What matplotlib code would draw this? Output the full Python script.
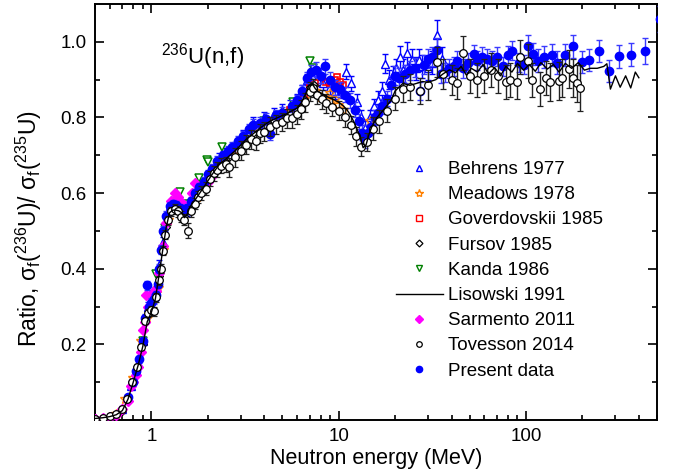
import matplotlib
matplotlib.use("Agg")
import matplotlib.pyplot as plt
from matplotlib.lines import Line2D
from matplotlib.ticker import FixedLocator, NullFormatter, LogLocator

plt.rcParams['font.family'] = ['Liberation Sans', 'DejaVu Sans']
plt.rcParams['mathtext.default'] = 'regular'

# ---------------- data ----------------
lis_E = [0.5, 0.55, 0.6, 0.65, 0.7, 0.75, 0.8, 0.85, 0.9, 0.95, 1.0, 1.05, 1.1, 1.15, 1.2, 1.25, 1.3, 1.35,
         1.4, 1.45, 1.5, 1.55, 1.6, 1.65, 1.7, 1.8, 1.9, 2.0, 2.1, 2.2, 2.3, 2.4, 2.5, 2.6, 2.8, 3.0, 3.2, 3.4,
         3.6, 3.8, 4.0, 4.3, 4.6, 5.0, 5.3, 5.6, 6.0, 6.3, 6.6, 6.9, 7.2, 7.5, 7.8, 8.2, 8.6, 9.0, 9.5, 10,
         10.5, 11, 11.5, 12, 12.5, 13, 13.5, 14, 14.5, 15, 16, 17, 18, 19, 20, 22, 24, 26, 28, 30, 33, 36,
         39, 42, 45, 48, 51, 55, 59, 63, 68, 73, 78, 84, 90, 97, 104, 112, 120, 130, 140, 150, 162, 175,
         190, 205, 220, 240, 260, 270, 282, 300, 318, 340, 362, 383, 400]
lis_R = [0.004, 0.006, 0.009, 0.014, 0.025, 0.055, 0.100, 0.145, 0.195, 0.260, 0.285, 0.320, 0.385, 0.450,
         0.510, 0.548, 0.555, 0.555, 0.553, 0.548, 0.535, 0.543, 0.562, 0.572, 0.580, 0.598, 0.615, 0.632,
         0.648, 0.662, 0.675, 0.683, 0.690, 0.698, 0.712, 0.727, 0.742, 0.752, 0.762, 0.772, 0.780, 0.790,
         0.797, 0.805, 0.810, 0.817, 0.825, 0.838, 0.858, 0.882, 0.890, 0.876, 0.868, 0.862, 0.856, 0.851,
         0.846, 0.840, 0.832, 0.822, 0.808, 0.790, 0.770, 0.748, 0.720, 0.728, 0.755, 0.775, 0.800, 0.815,
         0.830, 0.845, 0.870, 0.890, 0.885, 0.890, 0.895, 0.893, 0.900, 0.915, 0.926, 0.918, 0.935, 0.912,
         0.930, 0.920, 0.940, 0.915, 0.932, 0.910, 0.935, 0.920, 0.943, 0.925, 0.940, 0.922, 0.945, 0.928,
         0.940, 0.920, 0.943, 0.930, 0.945, 0.925, 0.930, 0.930, 0.935, 0.942, 0.875, 0.910, 0.880, 0.910,
         0.878, 0.920, 0.905]

tov_E = [0.5, 0.55, 0.6, 0.65, 0.7, 0.74, 0.79, 0.84, 0.88, 0.92, 0.96, 1.0, 1.03, 1.06, 1.1, 1.13, 1.15,
         1.18, 1.22, 1.28, 1.33, 1.38, 1.44, 1.5, 1.56, 1.62, 1.7, 1.78, 1.85, 1.95, 2.05, 2.15, 2.25, 2.35,
         2.5, 2.6, 2.8, 3.0, 3.2, 3.4, 3.6, 3.8, 4.0, 4.3, 4.6, 5.0, 5.3, 5.6, 6.0, 6.3, 6.6, 7.0, 7.3, 7.7,
         8.1, 8.6, 9.2, 10, 10.8, 11.6, 12.4, 13.2, 14.2, 15.2, 16.5, 18, 20, 22, 24, 27, 30, 33.5, 36, 40,
         42.7, 46, 50, 54.7, 59.3, 65, 71, 77.7, 82.5, 89.5, 93, 102, 108, 118, 128, 135, 149, 155, 169,
         178, 186, 195]
tov_R = [0.003, 0.006, 0.010, 0.016, 0.028, 0.055, 0.100, 0.140, 0.193, 0.262, 0.283, 0.290, 0.288, 0.325,
         0.370, 0.400, 0.448, 0.490, 0.528, 0.552, 0.558, 0.552, 0.538, 0.530, 0.500, 0.552, 0.572, 0.590,
         0.600, 0.612, 0.638, 0.652, 0.662, 0.672, 0.676, 0.668, 0.695, 0.712, 0.728, 0.742, 0.738, 0.758,
         0.762, 0.776, 0.782, 0.788, 0.798, 0.798, 0.808, 0.822, 0.840, 0.868, 0.878, 0.860, 0.848, 0.838,
         0.828, 0.818, 0.800, 0.780, 0.750, 0.722, 0.735, 0.770, 0.790, 0.818, 0.850, 0.875, 0.880, 0.870,
         0.885, 0.947, 0.915, 0.900, 0.890, 0.970, 0.910, 0.900, 0.910, 0.925, 0.910, 0.894, 0.900, 0.894,
         0.960, 0.950, 0.900, 0.875, 0.905, 0.894, 0.896, 0.905, 0.928, 0.905, 0.890, 0.878]
tov_err = [0.004, 0.004, 0.004, 0.004, 0.005, 0.006, 0.007, 0.007, 0.008, 0.008, 0.010, 0.012, 0.012, 0.012,
           0.012, 0.012, 0.012, 0.012, 0.012, 0.012, 0.012, 0.015, 0.015, 0.015, 0.020, 0.015, 0.015, 0.015,
           0.018, 0.018, 0.020, 0.020, 0.020, 0.020, 0.020, 0.025, 0.025, 0.025, 0.025, 0.025, 0.025, 0.025,
           0.025, 0.025, 0.025, 0.025, 0.025, 0.025, 0.025, 0.025, 0.025, 0.025, 0.025, 0.025, 0.025, 0.025,
           0.025, 0.025, 0.025, 0.025, 0.025, 0.025, 0.025, 0.030, 0.030, 0.030, 0.030, 0.035, 0.035, 0.035,
           0.040, 0.040, 0.040, 0.040, 0.040, 0.045, 0.045, 0.045, 0.045, 0.045, 0.045, 0.045, 0.045, 0.045,
           0.045, 0.045, 0.045, 0.045, 0.045, 0.050, 0.050, 0.050, 0.050, 0.050, 0.050, 0.060]

pre_E = [0.75, 0.80, 0.83, 0.86, 0.90, 0.93, 0.95, 0.97, 1.00, 1.03, 1.06, 1.08, 1.10, 1.13, 1.16, 1.20,
         1.25, 1.30, 1.36, 1.42, 1.48, 1.55, 1.62, 1.70, 1.80, 1.90, 2.00, 2.10, 2.25, 2.40, 2.55, 2.70,
         2.90, 3.10, 3.30, 3.50, 3.80, 4.10, 4.30, 4.60, 5.00, 5.60, 6.00, 6.40, 6.80, 7.10, 7.60, 8.00,
         8.44, 9.00, 9.60, 10.2, 10.8, 11.5, 12.2, 12.8, 13.3, 13.8, 14.3, 14.9, 15.6, 16.3, 17.1, 18.0,
         19.0, 20.0, 21.0, 22.5, 24.0, 25.5, 27.0, 28.5, 30.0, 31.5, 33.4, 35.0, 37.0, 39.0, 41.0, 43.0,
         46.0, 49.0, 52.5, 55.0, 58.0, 62.0, 66.0, 70.0, 75.0, 80.0, 84.0, 92.0, 98.0, 102, 109, 116, 124,
         137, 147, 162, 179, 198, 218, 245, 277, 313, 364, 429, 520]
pre_R = [0.060, 0.100, 0.130, 0.160, 0.210, 0.270, 0.356, 0.300, 0.310, 0.320, 0.330, 0.360, 0.400, 0.450,
         0.500, 0.540, 0.565, 0.570, 0.568, 0.560, 0.550, 0.560, 0.578, 0.600, 0.615, 0.630, 0.650, 0.665,
         0.685, 0.700, 0.712, 0.722, 0.738, 0.752, 0.770, 0.780, 0.786, 0.796, 0.755, 0.806, 0.812, 0.830,
         0.845, 0.870, 0.905, 0.920, 0.926, 0.910, 0.935, 0.900, 0.880, 0.875, 0.860, 0.845, 0.820, 0.790,
         0.760, 0.740, 0.760, 0.775, 0.800, 0.812, 0.830, 0.850, 0.885, 0.910, 0.905, 0.915, 0.925, 0.932,
         0.870, 0.940, 0.955, 0.960, 0.979, 0.915, 0.920, 0.930, 0.935, 0.950, 0.930, 0.945, 0.967, 0.950,
         0.960, 0.955, 0.950, 0.960, 0.935, 0.965, 0.977, 0.945, 0.940, 0.988, 0.968, 0.950, 0.960, 0.965,
         0.945, 0.965, 0.988, 0.947, 0.952, 0.976, 0.923, 0.962, 0.966, 0.976, 1.060]
pre_err = [0.006, 0.007, 0.008, 0.008, 0.010, 0.010, 0.012, 0.012, 0.012, 0.012, 0.012, 0.012, 0.012, 0.012,
           0.012, 0.012, 0.012, 0.012, 0.012, 0.012, 0.012, 0.012, 0.012, 0.012, 0.012, 0.012, 0.012, 0.012,
           0.012, 0.012, 0.012, 0.012, 0.012, 0.012, 0.012, 0.015, 0.015, 0.015, 0.015, 0.015, 0.015, 0.015,
           0.015, 0.015, 0.015, 0.020, 0.020, 0.020, 0.020, 0.020, 0.020, 0.020, 0.020, 0.020, 0.020, 0.020,
           0.020, 0.020, 0.020, 0.020, 0.020, 0.020, 0.020, 0.020, 0.025, 0.025, 0.025, 0.025, 0.025, 0.025,
           0.025, 0.025, 0.025, 0.025, 0.030, 0.025, 0.025, 0.025, 0.025, 0.025, 0.025, 0.025, 0.025, 0.025,
           0.025, 0.025, 0.025, 0.025, 0.025, 0.025, 0.025, 0.025, 0.025, 0.030, 0.030, 0.030, 0.030, 0.030,
           0.030, 0.030, 0.030, 0.030, 0.030, 0.030, 0.030, 0.030, 0.030, 0.035, 0.035]

beh_E = [0.60, 0.70, 0.78, 0.85, 0.90, 0.96, 1.00, 1.05, 1.10, 1.15, 1.20, 1.25, 1.30, 1.38, 1.45, 1.55,
         1.65, 1.75, 1.90, 2.10, 2.30, 2.50, 2.80, 3.10, 3.50, 4.00, 4.50, 5.00, 5.50, 6.00, 6.40, 6.80,
         7.20, 7.70, 8.20, 9.00, 9.50, 10.3, 11.0, 11.7, 12.5, 13.2, 13.8, 14.7, 15.5, 16.3, 17.0, 17.7,
         18.5, 19.5, 20.3, 21.2, 22.1, 23.1, 24.5, 25.7, 26.7, 28.0, 30.0, 31.5, 33.4, 35.5]
beh_R = [0.010, 0.030, 0.090, 0.150, 0.210, 0.300, 0.300, 0.340, 0.410, 0.470, 0.530, 0.565, 0.575, 0.570,
         0.560, 0.555, 0.580, 0.600, 0.625, 0.660, 0.690, 0.705, 0.720, 0.752, 0.785, 0.800, 0.810, 0.820,
         0.830, 0.848, 0.872, 0.900, 0.912, 0.902, 0.892, 0.880, 0.870, 0.872, 0.921, 0.890, 0.842, 0.800,
         0.772, 0.800, 0.830, 0.845, 0.870, 0.942, 0.900, 0.912, 0.930, 0.960, 0.925, 0.970, 0.952, 0.930,
         0.952, 0.935, 0.930, 0.945, 1.018, 0.955]
beh_err = [0.005, 0.006, 0.008, 0.010, 0.010, 0.012, 0.012, 0.012, 0.012, 0.015, 0.015, 0.015, 0.015, 0.015,
           0.015, 0.015, 0.015, 0.015, 0.015, 0.015, 0.015, 0.015, 0.015, 0.015, 0.015, 0.015, 0.015, 0.015,
           0.015, 0.015, 0.015, 0.015, 0.020, 0.020, 0.020, 0.020, 0.020, 0.020, 0.020, 0.020, 0.020, 0.020,
           0.020, 0.020, 0.020, 0.025, 0.025, 0.025, 0.025, 0.025, 0.025, 0.030, 0.030, 0.030, 0.030, 0.030,
           0.030, 0.030, 0.030, 0.030, 0.040, 0.030]

mea_E = [0.65, 0.72, 0.80, 0.88, 0.95, 1.00, 1.08, 1.15, 1.22, 1.30, 1.40, 1.50, 1.60, 1.75, 1.90, 2.10,
         2.40, 2.80, 3.20, 3.70, 4.20, 4.80, 5.40, 6.00, 6.50, 7.00, 7.50, 8.00, 8.50, 9.00, 9.50, 9.90,
         10.5, 14.6]
mea_R = [0.015, 0.055, 0.110, 0.210, 0.270, 0.290, 0.350, 0.450, 0.530, 0.560, 0.560, 0.545, 0.565, 0.590,
         0.620, 0.655, 0.685, 0.715, 0.745, 0.770, 0.790, 0.800, 0.815, 0.830, 0.850, 0.873, 0.870, 0.855,
         0.845, 0.864, 0.850, 0.833, 0.820, 0.790]

gov_E = [5.0, 5.5, 6.0, 6.5, 7.0, 7.5, 8.1, 8.5, 9.0, 9.5, 9.75, 10.2, 10.5]
gov_R = [0.810, 0.820, 0.835, 0.860, 0.885, 0.890, 0.908, 0.895, 0.890, 0.900, 0.908, 0.895, 0.885]

fur_E = [0.5, 0.6, 0.7, 0.8, 0.9, 1.0, 1.1, 1.2, 1.3, 1.4, 1.5, 1.6, 1.8, 2.0, 2.3, 2.6, 3.0, 3.5, 4.0,
         4.5, 5.0, 5.5, 6.0, 6.5, 7.0, 7.4]
fur_R = [0.004, 0.010, 0.025, 0.100, 0.200, 0.290, 0.380, 0.510, 0.555, 0.555, 0.540, 0.560, 0.595, 0.630,
         0.670, 0.695, 0.725, 0.760, 0.780, 0.790, 0.800, 0.810, 0.820, 0.850, 0.880, 0.885]

kan_E = [0.90, 1.06, 1.18, 1.35, 1.42, 1.55, 1.80, 1.97, 2.00, 2.37, 3.00, 4.00, 5.70, 7.00, 7.30]
kan_R = [0.210, 0.385, 0.509, 0.590, 0.603, 0.570, 0.639, 0.687, 0.683, 0.723, 0.735, 0.790, 0.842, 0.948,
         0.930]

sar_E = [0.50, 0.55, 0.60, 0.65, 0.70, 0.75, 0.78, 0.80, 0.83, 0.85, 0.88, 0.90, 0.93, 0.94, 0.96, 0.98,
         1.00, 1.03, 1.06, 1.10, 1.15, 1.20, 1.27, 1.33, 1.38, 1.45, 1.55, 1.65, 1.70, 1.80, 1.90, 2.00, 2.10]
sar_R = [0.003, 0.005, 0.008, 0.012, 0.030, 0.050, 0.090, 0.100, 0.120, 0.140, 0.180, 0.237, 0.260, 0.330,
         0.300, 0.330, 0.325, 0.340, 0.340, 0.390, 0.460, 0.520, 0.580, 0.599, 0.590, 0.575, 0.565, 0.600,
         0.626, 0.610, 0.620, 0.630, 0.645]

x_ticks = [1, 10, 100]
x_ticklabels = ['1', '10', '100']
y_ticks = [0.2, 0.4, 0.6, 0.8, 1.0]
y_ticklabels = ['0.2', '0.4', '0.6', '0.8', '1.0']

BLUE = '#0000ff'
ORANGE = '#ff8000'
RED = '#ff0000'
GREEN = '#008000'
MAGENTA = '#ff00ff'

# ---------------- figure ----------------
fig = plt.figure(figsize=(6.78, 4.76), dpi=100)
ax = fig.add_axes([95 / 678, 56 / 476, 562 / 678, 416 / 476])

ax.errorbar(beh_E, beh_R, yerr=beh_err, fmt='^', ms=6, mfc='white', mec=BLUE, mew=1.0,
            ecolor=BLUE, elinewidth=1.0, capsize=2.5, zorder=2)
ax.plot(mea_E, mea_R, '*', ms=7, mfc='none', mec=ORANGE, mew=1.0, ls='none', zorder=3)
ax.plot(gov_E, gov_R, 's', ms=5, mfc='none', mec=RED, mew=1.2, ls='none', zorder=3)
ax.plot(fur_E, fur_R, 'D', ms=4.5, mfc='white', mec='black', mew=0.9, ls='none', zorder=3)
ax.plot(kan_E, kan_R, 'v', ms=6, mfc='white', mec=GREEN, mew=1.1, ls='none', zorder=3)
ax.plot(sar_E, sar_R, 'D', ms=5.5, mfc=MAGENTA, mec=MAGENTA, ls='none', zorder=3)
ax.errorbar(pre_E, pre_R, yerr=pre_err, fmt='o', ms=6, mfc=BLUE, mec=BLUE,
            ecolor='#3a3aff', elinewidth=1.0, capsize=2.5, zorder=4)
ax.errorbar(tov_E, tov_R, yerr=tov_err, fmt='o', ms=5.5, mfc='white', mec='black', mew=0.9,
            ecolor='#222222', elinewidth=1.0, capsize=2.5, zorder=5)
ax.plot(lis_E, lis_R, '-', color='black', lw=1.0, zorder=6)

ax.set_xscale('log')
ax.set_xlim(0.5, 500)
ax.set_ylim(0.0, 1.1)

ax.xaxis.set_major_locator(FixedLocator(x_ticks))
ax.set_xticklabels(x_ticklabels)
ax.xaxis.set_minor_locator(LogLocator(base=10, subs=[2, 3, 4, 5, 6, 7, 8, 9]))
ax.xaxis.set_minor_formatter(NullFormatter())
ax.yaxis.set_major_locator(FixedLocator(y_ticks))
ax.set_yticklabels(y_ticklabels)
ax.yaxis.set_minor_locator(FixedLocator([0.1, 0.3, 0.5, 0.7, 0.9]))

ax.tick_params(which='both', direction='in', top=True, right=True, width=1.2, labelsize=13.5)
ax.tick_params(which='major', length=6.5, pad=6)
ax.tick_params(which='minor', length=3.5)
for s in ax.spines.values():
    s.set_linewidth(1.4)

ax.set_xlabel('Neutron energy (MeV)', fontsize=15.5, labelpad=2)
ax.set_ylabel(r'Ratio, $\sigma_f$($^{236}$U)/ $\sigma_f$($^{235}$U)', fontsize=16.5)
ax.yaxis.set_label_coords(-0.091, 0.46)

ax.text(0.118, 0.858, r'$^{236}$U(n,f)', transform=ax.transAxes, fontsize=16, ha='left', va='baseline')

handles = [
    Line2D([], [], ls='none', marker='^', ms=4.5, mfc='white', mec=BLUE, mew=1.0),
    Line2D([], [], ls='none', marker='*', ms=6, mfc='none', mec=ORANGE, mew=1.0),
    Line2D([], [], ls='none', marker='s', ms=4, mfc='none', mec=RED, mew=1.0),
    Line2D([], [], ls='none', marker='D', ms=3.5, mfc='white', mec='black', mew=0.9),
    Line2D([], [], ls='none', marker='v', ms=4.5, mfc='white', mec=GREEN, mew=1.0),
    Line2D([], [], ls='-', color='black', lw=1.0),
    Line2D([], [], ls='none', marker='D', ms=4, mfc=MAGENTA, mec=MAGENTA),
    Line2D([], [], ls='none', marker='o', ms=4, mfc='white', mec='black', mew=0.9),
    Line2D([], [], ls='none', marker='o', ms=4.5, mfc=BLUE, mec=BLUE),
]
labels = ['Behrens 1977', 'Meadows 1978', 'Goverdovskii 1985', 'Fursov 1985', 'Kanda 1986',
          'Lisowski 1991', 'Sarmento 2011', 'Tovesson 2014', 'Present data']
ax.legend(handles, labels, loc='upper left', bbox_to_anchor=((396 - 95) / 562, (420 - 161) / 416),
          frameon=False, fontsize=13.5, handlelength=2.5, handletextpad=0.3, labelspacing=0.43,
          borderpad=0, borderaxespad=0)

fig.savefig('out.png', dpi=100)
